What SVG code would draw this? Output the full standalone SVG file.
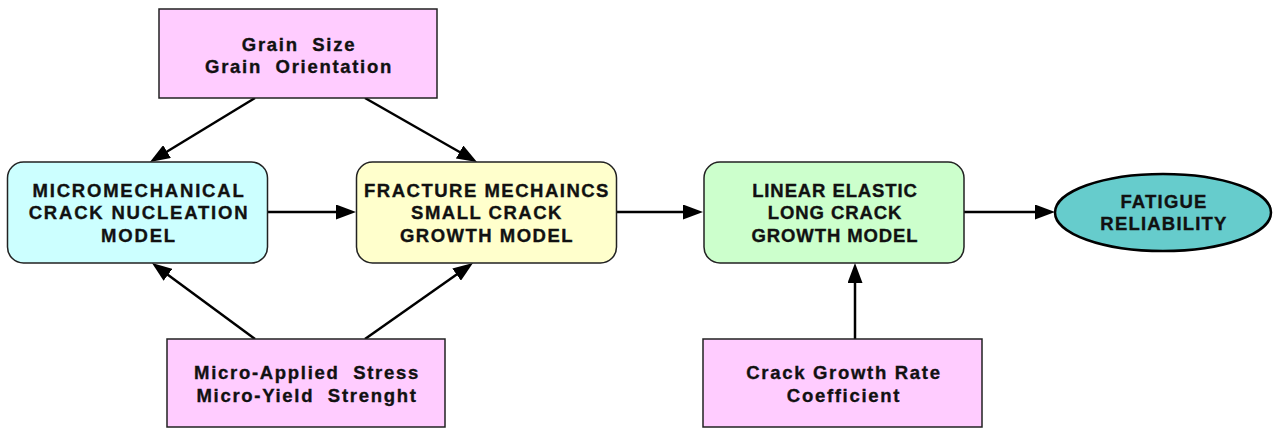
<svg xmlns="http://www.w3.org/2000/svg" width="1273" height="430" viewBox="0 0 1273 430">
<style>
.box{stroke:#222;stroke-width:1.5}
.pink{fill:#FFCCFF}
.t{font-family:"Liberation Sans",Arial,sans-serif;font-weight:bold;font-size:18.5px;fill:#111;stroke:#111;stroke-width:0.35px;text-anchor:middle;white-space:pre}
.p{letter-spacing:1.7px}
.m{letter-spacing:1.8px}
.f{letter-spacing:1.5px}
.n{letter-spacing:0.9px}
.e{letter-spacing:1.2px}
.c{stroke:#000;stroke-width:2.5;fill:none;marker-end:url(#ah)}
</style>
<defs>
<marker id="ah" markerUnits="userSpaceOnUse" markerWidth="20" markerHeight="15" refX="10" refY="7.5" orient="auto">
<path d="M0,0 L20,7.5 L0,15 z" fill="#000"/>
</marker>
</defs>
<rect width="1273" height="430" fill="#fff"/>
<g id="connectors">
<line class="c" x1="255" y1="98" x2="158.5" y2="156.8"/>
<line class="c" x1="365" y1="98" x2="468.3" y2="157"/>
<line class="c" x1="255" y1="339" x2="160" y2="268.9"/>
<line class="c" x1="365" y1="339" x2="464.8" y2="268.8"/>
<line class="c" x1="268" y1="212" x2="346" y2="212"/>
<line class="c" x1="617" y1="212" x2="693" y2="212"/>
<line class="c" x1="964" y1="212" x2="1045" y2="212"/>
<line class="c" x1="855" y1="339" x2="855" y2="273"/>
</g>
<g id="grain">
<rect class="box pink" x="159" y="9" width="278" height="89"/>
<text class="t p" x="299" y="51" xml:space="preserve">Grain  Size</text>
<text class="t p" x="299" y="73" xml:space="preserve">Grain  Orientation</text>
</g>
<g id="micromech">
<rect class="box" x="7.5" y="162" width="260" height="101" rx="16" fill="#CCFFFF"/>
<text class="t m" x="139" y="197">MICROMECHANICAL</text>
<text class="t m" x="139" y="219">CRACK NUCLEATION</text>
<text class="t m" x="139" y="242">MODEL</text>
</g>
<g id="fracture">
<rect class="box" x="356.5" y="162" width="260" height="101" rx="16" fill="#FFFFCC"/>
<text class="t f" x="487" y="197">FRACTURE MECHAINCS</text>
<text class="t f" x="487" y="219">SMALL CRACK</text>
<text class="t f" x="487" y="242">GROWTH MODEL</text>
</g>
<g id="linear">
<rect class="box" x="704" y="162" width="260" height="101" rx="16" fill="#CCFFCC"/>
<text class="t n" x="835" y="197">LINEAR ELASTIC</text>
<text class="t n" x="835" y="219">LONG CRACK</text>
<text class="t n" x="835" y="242">GROWTH MODEL</text>
</g>
<g id="fatigue">
<ellipse cx="1163" cy="212.5" rx="108" ry="38.5" fill="#66CCCC" stroke="#000" stroke-width="2.5"/>
<text class="t e" x="1164" y="208">FATIGUE</text>
<text class="t e" x="1164" y="230">RELIABILITY</text>
</g>
<g id="stress">
<rect class="box pink" x="167" y="339" width="278" height="88"/>
<text class="t p" x="307" y="379" xml:space="preserve">Micro-Applied  Stress</text>
<text class="t p" x="307" y="402" xml:space="preserve">Micro-Yield  Strenght</text>
</g>
<g id="rate">
<rect class="box pink" x="703" y="339" width="279" height="88"/>
<text class="t p" x="844" y="379">Crack Growth Rate</text>
<text class="t p" x="844" y="402">Coefficient</text>
</g>
</svg>
